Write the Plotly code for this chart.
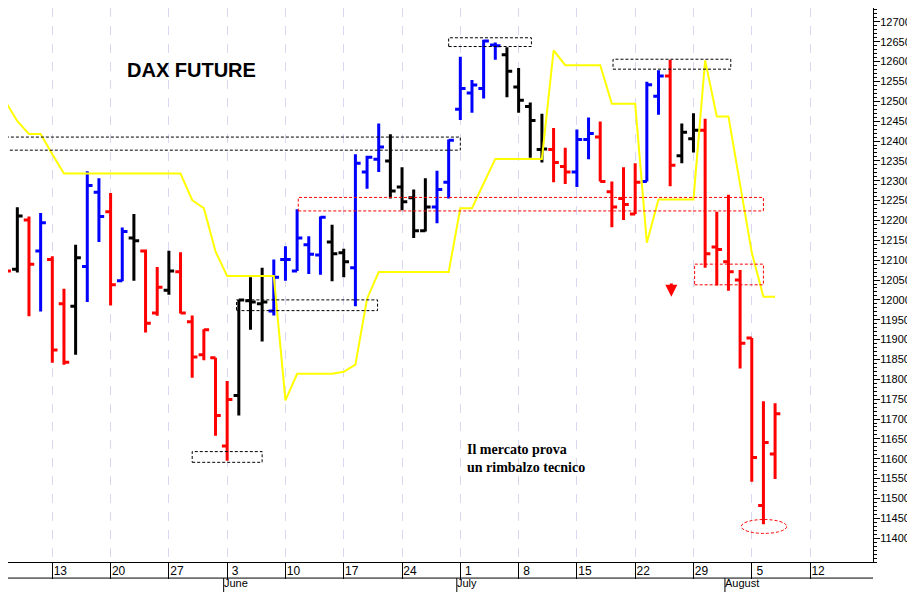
"""DAX future daily bars, May-August 2019."""

import pandas as pd
import plotly.graph_objects as go

dates = [
    "2019-05-07", "2019-05-08", "2019-05-09", "2019-05-10", "2019-05-13", "2019-05-14",
    "2019-05-15", "2019-05-16", "2019-05-17", "2019-05-20", "2019-05-21", "2019-05-22",
    "2019-05-23", "2019-05-24", "2019-05-27", "2019-05-28", "2019-05-29", "2019-05-30",
    "2019-05-31", "2019-06-03", "2019-06-04", "2019-06-05", "2019-06-06", "2019-06-07",
    "2019-06-10", "2019-06-11", "2019-06-12", "2019-06-13", "2019-06-14", "2019-06-17",
    "2019-06-18", "2019-06-19", "2019-06-20", "2019-06-21", "2019-06-24", "2019-06-25",
    "2019-06-26", "2019-06-27", "2019-06-28", "2019-07-01", "2019-07-02", "2019-07-03",
    "2019-07-04", "2019-07-05", "2019-07-08", "2019-07-09", "2019-07-10", "2019-07-11",
    "2019-07-12", "2019-07-15", "2019-07-16", "2019-07-17", "2019-07-18", "2019-07-19",
    "2019-07-22", "2019-07-23", "2019-07-24", "2019-07-25", "2019-07-26", "2019-07-29",
    "2019-07-30", "2019-07-31", "2019-08-01", "2019-08-02", "2019-08-05", "2019-08-06",
    "2019-08-07",
]
opens = [
    12286, 12077, 12201, 12123, 12102, 11990, 11984, 12084, 12271, 12222, 12048, 12156,
    12123, 11967, 12024, 12071, 11945, 11862, 11854, 11632, 11759, 11998, 11990, 11972,
    12102, 12073, 12139, 12113, 12146, 12119, 12081, 12322, 12354, 12350, 12284, 12257,
    12174, 12234, 12296, 12480, 12521, 12532, 12642, 12617, 12536, 12487, 12379, 12379,
    12336, 12322, 12404, 12410, 12272, 12255, 12216, 12298, 12513, 12564, 12363, 12406,
    12427, 12133, 12096, 12050, 11904, 11482, 11612,
]
highs = [
    12336, 12233, 12210, 12219, 12110, 12028, 12139, 12324, 12306, 12269, 12182, 12216,
    12127, 12083, 12124, 12120, 11961, 11926, 11854, 11796, 12000, 12057, 12081, 12102,
    12135, 12228, 12160, 12210, 12189, 12129, 12367, 12363, 12444, 12417, 12334, 12278,
    12306, 12325, 12404, 12612, 12554, 12655, 12648, 12636, 12584, 12497, 12469, 12433,
    12383, 12429, 12459, 12449, 12298, 12334, 12344, 12549, 12578, 12605, 12444, 12470,
    12456, 12222, 12265, 12075, 11904, 11745, 11740,
]
lows = [
    12038, 12069, 11959, 11971, 11842, 11837, 11862, 11995, 12146, 11986, 12047, 12048,
    11918, 11960, 12013, 11966, 11804, 11848, 11658, 11595, 11709, 11925, 11895, 11961,
    12048, 12073, 12065, 12063, 12047, 12057, 11984, 12280, 12322, 12255, 12226, 12156,
    12172, 12193, 12255, 12453, 12471, 12507, 12605, 12510, 12471, 12358, 12346, 12296,
    12292, 12284, 12354, 12298, 12183, 12201, 12216, 12298, 12466, 12286, 12344, 12371,
    12081, 12036, 12023, 11827, 11542, 11435, 11549,
]
closes = [
    12073, 12211, 12090, 12194, 11874, 11843, 12106, 12288, 12210, 12038, 12172, 12149,
    11941, 12032, 12073, 11967, 11856, 11925, 11709, 11749, 12000, 11995, 11995, 12057,
    12102, 12156, 12115, 12208, 12116, 12096, 12344, 12359, 12385, 12274, 12247, 12174,
    12234, 12278, 12402, 12532, 12541, 12652, 12640, 12576, 12503, 12452, 12380, 12346,
    12322, 12404, 12419, 12298, 12234, 12240, 12296, 12542, 12564, 12339, 12422, 12427,
    12116, 12127, 12071, 11891, 11603, 11641, 11713,
]
bar_colors = list(
    "rkrbrrkbbrbkrrkrrrrrkkkbbbbbkkbbbkkkkbbbbbbkkkkrrbbrrrrbbrkkrrrrrrr"
)
trend_line = [
    12499, 12450, 12418, 12418, 12367, 12318, 12318, 12318, 12318, 12318, 12318, 12318,
    12318, 12318, 12318, 12318, 12251, 12231, 12122, 12060, 12060, 12060, 12060, 12060,
    11747, 11814, 11814, 11814, 11814, 11819, 11837, 12003, 12070, 12070, 12070, 12070,
    12070, 12070, 12070, 12231, 12231, 12293, 12355, 12355, 12355, 12355, 12355, 12628,
    12591, 12591, 12591, 12591, 12494, 12494, 12494, 12144, 12253, 12253, 12253, 12253,
    12603, 12462, 12462, 12288, 12119, 12008, 12008,
]
price_ticks = list(range(11400, 12701, 50))

# dashed boxes: (x0, x1 in trading-day index, y0, y1, colour)
boxes = [
    (0.5, 40.0, 12377, 12410, "black"),
    (20.8, 32.9, 11973, 12000, "black"),
    (39.0, 46.1, 12638, 12660, "black"),
    (53.1, 63.2, 12581, 12606, "black"),
    (17.0, 23.0, 11591, 11618, "black"),
    (26.1, 66.0, 12224, 12258, "red"),
    (60.1, 66.0, 12038, 12090, "red"),
]
low_circle = (64.1, 68.0, 11412, 11447)

week_starts = pd.bdate_range("2019-05-06", "2019-08-12", freq="W-MON")
month_starts = [("June", "2019-06-03"), ("July", "2019-07-01"), ("August", "2019-08-01")]

days = pd.bdate_range("2019-05-06", "2019-08-16")
x = list(days.get_indexer(pd.to_datetime(dates)))
colour_map = {"r": "#ff0000", "b": "#0000ff", "k": "#000000"}

fig = go.Figure()
for key, col in colour_map.items():
    idx = [i for i, c in enumerate(bar_colors) if c == key]
    fig.add_trace(
        go.Ohlc(
            x=[x[i] for i in idx],
            open=[opens[i] for i in idx],
            high=[highs[i] for i in idx],
            low=[lows[i] for i in idx],
            close=[closes[i] for i in idx],
            increasing=dict(line=dict(color=col, width=3)),
            decreasing=dict(line=dict(color=col, width=3)),
            tickwidth=0.45,
            hoverinfo="skip",
            showlegend=False,
        )
    )

fig.add_trace(
    go.Scatter(
        x=x, y=trend_line, mode="lines",
        line=dict(color="#ffff00", width=2), hoverinfo="skip", showlegend=False,
    )
)

for x0, x1, y0, y1, col in boxes:
    fig.add_shape(
        type="rect", x0=x0, x1=x1, y0=y0, y1=y1,
        line=dict(color=col, width=1, dash="3px,2px"),
    )
fig.add_shape(
    type="circle", x0=low_circle[0], x1=low_circle[1], y0=low_circle[2], y1=low_circle[3],
    line=dict(color="red", width=1, dash="3px,2px"),
)

# month row under the day labels
for name, d in month_starts:
    mi = days.get_loc(pd.Timestamp(d))
    fig.add_shape(
        type="line", xref="x", yref="paper", x0=mi - 0.3, x1=mi - 0.3,
        y0=-0.07, y1=-0.029, line=dict(color="black", width=1),
    )
    fig.add_annotation(
        x=mi - 0.3, y=-0.029, xref="x", yref="paper", text=name, showarrow=False,
        xanchor="left", yanchor="top", xshift=-2, yshift=3,
        font=dict(size=11, color="black"),
    )
fig.add_shape(
    type="line", xref="paper", yref="paper", x0=0, x1=1, y0=-0.029, y1=-0.029,
    line=dict(color="black", width=1),
)

fig.add_annotation(
    x=16.9, y=12580, text="<b>DAX FUTURE</b>", showarrow=False,
    font=dict(family="Liberation Sans", size=20, color="black"),
)
fig.add_annotation(
    x=45.6, y=11600, text="<b>Il mercato prova<br>un rimbalzo tecnico</b>", showarrow=False,
    align="left", font=dict(family="Liberation Serif", size=14, color="black"),
)
fig.add_annotation(
    x=58.1, y=12008, ax=58.1, ay=12045, xref="x", yref="y", axref="x", ayref="y",
    text="", showarrow=True, arrowhead=2, arrowsize=0.8, arrowwidth=3, arrowcolor="red",
)

fig.update_layout(
    width=915, height=592,
    margin=dict(l=0, r=50, t=0, b=38),
    paper_bgcolor="white", plot_bgcolor="white",
    font=dict(family="Liberation Sans", size=12, color="black"),
)
fig.update_xaxes(
    range=[1.2, 75.4],
    tickvals=list(days.get_indexer(week_starts)),
    ticktext=[str(d.day) for d in week_starts],
    ticks="outside", ticklen=16, tickcolor="black",
    ticklabelshift=8, ticklabelstandoff=-18,
    showgrid=True, gridcolor="#d8d8f0", griddash="dash", gridwidth=1,
    showline=True, linecolor="black", zeroline=False,
    rangeslider=dict(visible=False), automargin=False,
)
fig.update_yaxes(
    side="right", range=[11340, 12735], tickvals=price_ticks, tickformat="d",
    ticks="outside", ticklen=6, tickcolor="black", ticklabelstandoff=-2,
    minor=dict(dtick=10, ticks="outside", ticklen=3, tickcolor="black"),
    showgrid=False, showline=True, linecolor="black", zeroline=False,
    tickfont=dict(size=11), automargin=False,
)

fig.write_html("out.html")
